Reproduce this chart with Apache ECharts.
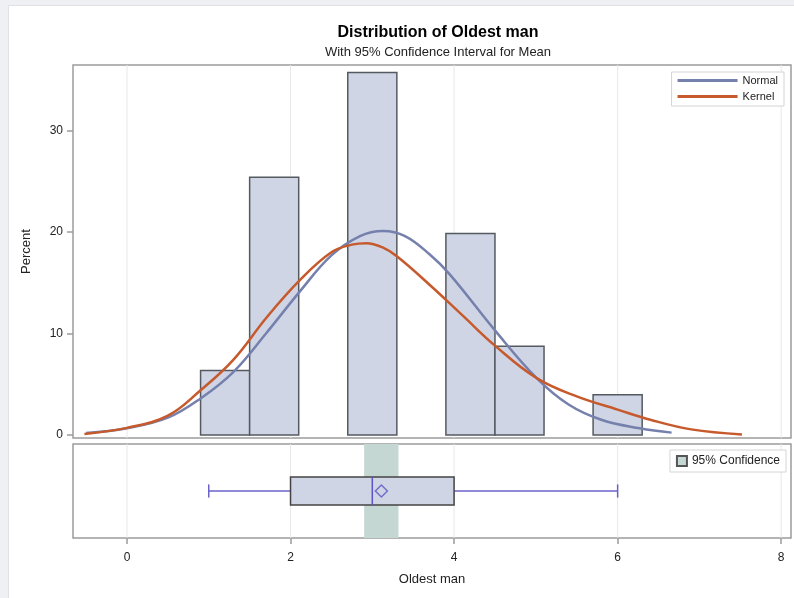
<!DOCTYPE html>
<html>
<head>
<meta charset="utf-8">
<script src="https://cdn.jsdelivr.net/npm/echarts@6/dist/echarts.min.js"></script>
<style>
html,body{margin:0;padding:0;background:#eef0f4;}
#panel{position:absolute;left:8px;top:5px;width:800px;height:600px;background:#fff;border:1px solid #dfe1e5;}
#chart{position:absolute;left:0;top:0;width:794px;height:598px;}
</style>
</head>
<body>
<div id="panel"></div>
<div id="chart"></div>
<script>
// ---- data ----
const binMid = [1.2, 1.8, 3.0, 4.2, 4.8, 6.0];
const binWidth = 0.6;
const percent = [6.35, 25.40, 35.71, 19.84, 8.73, 3.97];

const normalX = [-0.5, 0, 0.5, 0.9, 1.3, 1.7, 2.12, 2.5, 2.85, 3.13, 3.4, 3.7, 3.95, 4.5, 5.01, 5.4, 5.8, 6.27, 6.66];
const normalY = [0.2, 0.66, 1.7, 3.6, 6.2, 10.0, 14.2, 17.7, 19.6, 20.1, 19.6, 17.8, 15.8, 10.3, 5.6, 3.0, 1.5, 0.66, 0.23];

const kernelX = [-0.52, 0, 0.5, 0.9, 1.3, 1.71, 2.12, 2.5, 2.75, 2.93, 3.12, 3.3, 3.7, 4.1, 4.5, 5.01, 5.5, 6.0, 6.4, 6.9, 7.52];
const kernelY = [0.1, 0.7, 1.9, 4.4, 7.4, 11.6, 15.3, 18.0, 18.75, 18.9, 18.5, 17.6, 14.8, 11.8, 8.8, 5.6, 3.8, 2.5, 1.5, 0.55, 0.05];

const boxStats = [1, 2, 3, 4, 6]; // min, q1, median, q3, max
const meanValue = [3.111];
const ciMean = [2.90, 3.32];

const xTicks = [0, 2, 4, 6, 8];
const yTicks = [0, 10, 20, 30];

// ---- chart ----
const FONT = 'Liberation Sans, Arial, sans-serif';
const chart = echarts.init(document.getElementById('chart'), null, {renderer: 'canvas'});

const X_MIN = -0.66, X_MAX = 8.12;
const Y_MIN = -0.3, Y_MAX = 36.45;

function gridLineSeries(xi, yi, y0, y1) {
  return {
    type: 'custom', xAxisIndex: xi, yAxisIndex: yi, silent: true, z: 1,
    data: xTicks.map(v => [v]),
    renderItem: function (params, api) {
      const a = api.coord([api.value(0), y0]);
      const b = api.coord([api.value(0), y1]);
      return {type: 'line', shape: {x1: a[0], y1: a[1], x2: b[0], y2: b[1]},
        style: {stroke: '#e8e8e8', lineWidth: 1}};
    }
  };
}

const option = {
  animation: false,
  textStyle: {fontFamily: FONT},
  title: [
    {text: 'Distribution of Oldest man', left: 433, top: 20, textAlign: 'center',
     textStyle: {fontSize: 16, fontWeight: 'bold', color: '#000', fontFamily: FONT}},
    {text: 'With 95% Confidence Interval for Mean', left: 433, top: 41, textAlign: 'center',
     textStyle: {fontSize: 13, fontWeight: 'normal', color: '#222', fontFamily: FONT}}
  ],
  legend: [
    {data: [{name: 'Normal', icon: 'rect'}, {name: 'Kernel', icon: 'rect'}], orient: 'vertical', right: 10, top: 72,
     itemWidth: 60, itemHeight: 3, itemGap: 5, padding: [3, 6, 4, 6],
     borderColor: '#d4d4d4', borderWidth: 1, backgroundColor: '#fff',
     textStyle: {fontSize: 11, color: '#222', fontFamily: FONT}},
    {data: [{name: '95% Confidence', icon: 'rect'}], right: 8, top: 450,
     itemWidth: 10, itemHeight: 10, padding: [5, 6, 5, 6],
     borderColor: '#d4d4d4', borderWidth: 1, backgroundColor: '#fff',
     textStyle: {fontSize: 12, color: '#222', fontFamily: FONT}}
  ],
  grid: [
    {left: 73, top: 65, width: 718, height: 373, show: true, borderColor: '#9c9c9c', borderWidth: 1.5, backgroundColor: '#fff'},
    {left: 73, top: 444, width: 718, height: 94, show: true, borderColor: '#9c9c9c', borderWidth: 1.5, backgroundColor: '#fff'}
  ],
  xAxis: [
    {type: 'value', gridIndex: 0, min: X_MIN, max: X_MAX,
     axisLine: {show: false, onZero: false}, axisTick: {show: false}, axisLabel: {show: false}, splitLine: {show: false}},
    {type: 'value', gridIndex: 1, min: X_MIN, max: X_MAX,
     name: 'Oldest man', nameLocation: 'middle', nameGap: 35,
     nameTextStyle: {fontSize: 13, color: '#222', fontFamily: FONT},
     axisLine: {show: false, onZero: false},
     axisTick: {show: true, length: 6, customValues: xTicks, lineStyle: {color: '#9c9c9c', width: 1.5}},
     axisLabel: {customValues: xTicks, fontSize: 12, color: '#222', margin: 14, fontFamily: FONT},
     splitLine: {show: false}}
  ],
  yAxis: [
    {type: 'value', gridIndex: 0, min: Y_MIN, max: Y_MAX,
     name: 'Percent', nameLocation: 'middle', nameGap: 40, nameRotate: 90,
     nameTextStyle: {fontSize: 13, color: '#222', fontFamily: FONT},
     axisLine: {show: false, onZero: false},
     axisTick: {show: true, length: 6, customValues: yTicks, lineStyle: {color: '#9c9c9c', width: 1.5}},
     axisLabel: {customValues: yTicks, fontSize: 12, color: '#222', margin: 10, fontFamily: FONT},
     splitLine: {show: false}},
    {type: 'value', gridIndex: 1, min: 0, max: 1,
     axisLine: {show: false, onZero: false}, axisTick: {show: false}, axisLabel: {show: false}, splitLine: {show: false}}
  ],
  series: [
    gridLineSeries(0, 0, Y_MIN, Y_MAX),
    gridLineSeries(1, 1, 0, 1),
    {
      name: 'Histogram', type: 'custom', xAxisIndex: 0, yAxisIndex: 0, z: 2,
      data: binMid.map((m, i) => [m - binWidth / 2, m + binWidth / 2, percent[i]]),
      encode: {x: [0, 1], y: 2},
      renderItem: function (params, api) {
        const p0 = api.coord([api.value(0), 0]);
        const p1 = api.coord([api.value(1), api.value(2)]);
        return {type: 'rect',
          shape: {x: p0[0], y: p1[1], width: p1[0] - p0[0], height: p0[1] - p1[1]},
          style: {fill: '#cfd5e5', stroke: '#555a60', lineWidth: 1.5}};
      }
    },
    {
      name: 'Normal', type: 'line', xAxisIndex: 0, yAxisIndex: 0, z: 4,
      data: normalX.map((x, i) => [x, normalY[i]]),
      smooth: 0.4, symbol: 'none',
      lineStyle: {color: '#7580ad', width: 2.5}, itemStyle: {color: '#7580ad'}
    },
    {
      name: 'Kernel', type: 'line', xAxisIndex: 0, yAxisIndex: 0, z: 5,
      data: kernelX.map((x, i) => [x, kernelY[i]]),
      smooth: 0.4, symbol: 'none',
      lineStyle: {color: '#c65a2c', width: 2.5}, itemStyle: {color: '#c65a2c'}
    },
    {
      name: '95% Confidence', type: 'custom', xAxisIndex: 1, yAxisIndex: 1, z: 2,
      itemStyle: {color: '#c5d7d3', borderColor: '#555', borderWidth: 1.5},
      data: [[ciMean[0], ciMean[1]]],
      encode: {x: [0, 1]},
      renderItem: function (params, api) {
        const a = api.coord([api.value(0), 1]);
        const b = api.coord([api.value(1), 0]);
        return {type: 'rect', shape: {x: a[0], y: a[1], width: b[0] - a[0], height: b[1] - a[1]},
          style: {fill: '#c5d7d3'}};
      }
    },
    {
      name: 'Box', type: 'custom', xAxisIndex: 1, yAxisIndex: 1, z: 3,
      data: [boxStats],
      encode: {x: [0, 1, 2, 3, 4]},
      renderItem: function (params, api) {
        const v = [0, 1, 2, 3, 4].map(i => api.value(i));
        const top = api.coord([v[1], 0.65])[1];
        const bot = api.coord([v[1], 0.35])[1];
        const mid = api.coord([v[1], 0.5])[1];
        const capT = api.coord([v[1], 0.57])[1];
        const capB = api.coord([v[1], 0.43])[1];
        const xs = v.map(val => api.coord([val, 0.5])[0]);
        const wc = '#6a62c8';
        return {type: 'group', children: [
          {type: 'line', shape: {x1: xs[0], y1: mid, x2: xs[1], y2: mid}, style: {stroke: wc, lineWidth: 1.5}},
          {type: 'line', shape: {x1: xs[3], y1: mid, x2: xs[4], y2: mid}, style: {stroke: wc, lineWidth: 1.5}},
          {type: 'line', shape: {x1: xs[0], y1: capT, x2: xs[0], y2: capB}, style: {stroke: wc, lineWidth: 1.5}},
          {type: 'line', shape: {x1: xs[4], y1: capT, x2: xs[4], y2: capB}, style: {stroke: wc, lineWidth: 1.5}},
          {type: 'rect', shape: {x: xs[1], y: top, width: xs[3] - xs[1], height: bot - top},
            style: {fill: '#cfd5e5', stroke: '#444', lineWidth: 1.5}},
          {type: 'line', shape: {x1: xs[2], y1: top, x2: xs[2], y2: bot}, style: {stroke: '#5b55c4', lineWidth: 1.5}}
        ]};
      }
    },
    {
      name: 'Mean', type: 'scatter', xAxisIndex: 1, yAxisIndex: 1, z: 6,
      data: meanValue.map(m => [m, 0.5]),
      symbol: 'diamond', symbolSize: [12, 12],
      itemStyle: {color: 'rgba(0,0,0,0)', borderColor: '#5b55c4', borderWidth: 1.5}
    }
  ]
};
chart.setOption(option);
</script>
</body>
</html>
